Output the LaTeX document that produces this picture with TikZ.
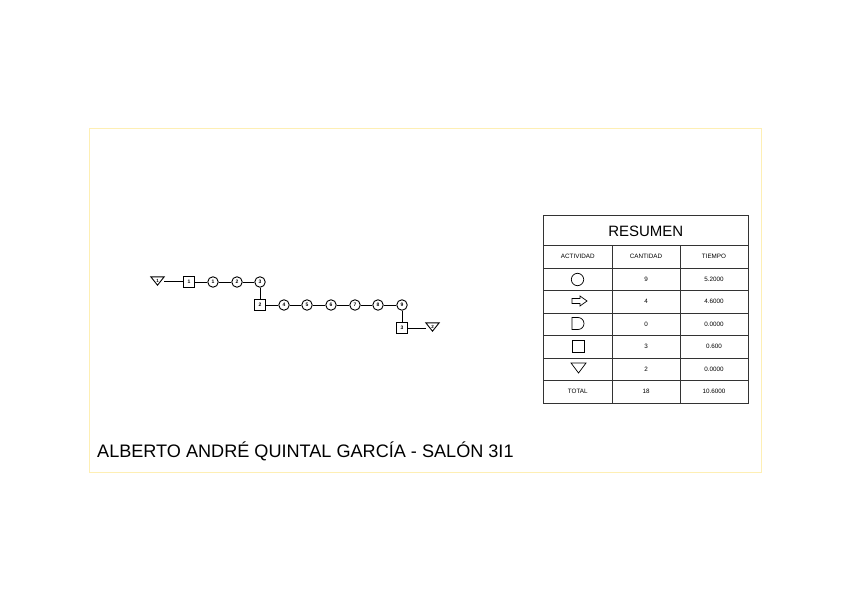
\documentclass[tikz,border=0pt]{standalone}
\usepackage{fontspec}
\setmainfont{Liberation Sans}
\usetikzlibrary{shapes.geometric}
\begin{document}
\begin{tikzpicture}[x=1pt,y=-1pt,
  op/.style={draw,circle,minimum size=10.5pt,inner sep=0pt,font=\fontsize{5}{5}\selectfont\bfseries,line width=0.9pt},
  insp/.style={draw,rectangle,minimum size=10.5pt,inner sep=0pt,font=\fontsize{5}{5}\selectfont\bfseries,line width=0.9pt},
  almbox/.style={rectangle,minimum width=13pt,minimum height=8pt,inner sep=0pt,font=\fontsize{4.5}{4.5}\selectfont\bfseries},
  almtri/.style={line width=0.9pt},
  conn/.style={line width=0.9pt},
  tab/.style={line width=0.9pt,draw=black!80},
  small/.style={font=\fontsize{6.3}{6.3}\selectfont},
  sym/.style={line width=0.7pt}]
\useasboundingbox (0,0) rectangle (848,599);
\draw[line width=1pt,draw=yellow!20!white!90!orange] (89,129) rectangle (761,472);
% flow
\node[almbox] (t1) at (157.5,281) {\raisebox{1pt}{1}};
\draw[almtri] (t1.north west) -- (t1.north east) -- (t1.south) -- cycle;
\node[insp] (s1) at (189,282) {1};
\node[op] (c1) at (213,282) {1};
\node[op] (c2) at (237,282) {2};
\node[op] (c3) at (260,282) {3};
\node[insp] (s2) at (260,305) {2};
\node[op] (c4) at (284,305) {4};
\node[op] (c5) at (307,305) {5};
\node[op] (c6) at (331,305) {6};
\node[op] (c7) at (355,305) {7};
\node[op] (c8) at (378,305) {8};
\node[op] (c9) at (402,305) {9};
\node[insp] (s3) at (402,328) {3};
\node[almbox] (t2) at (432.5,327) {\raisebox{1pt}{2}};
\draw[almtri] (t2.north west) -- (t2.north east) -- (t2.south) -- cycle;
\draw[conn] (t1.east) -- (s1.west |- t1.east);
\draw[conn] (s1) -- (c1);
\draw[conn] (c1) -- (c2);
\draw[conn] (c2) -- (c3);
\draw[conn] (c3) -- (s2);
\draw[conn] (s2) -- (c4);
\draw[conn] (c4) -- (c5);
\draw[conn] (c5) -- (c6);
\draw[conn] (c6) -- (c7);
\draw[conn] (c7) -- (c8);
\draw[conn] (c8) -- (c9);
\draw[conn] (c9) -- (s3);
\draw[conn] (s3.east) -- (t2.west |- s3.east);
% table
\draw[tab] (543.5,215) rectangle (748,403);
\foreach \y in {245,268,290,313,335,358,380} \draw[tab] (543.5,\y) -- (748,\y);
\draw[tab] (612,245) -- (612,403);
\draw[tab] (680,245) -- (680,403);
\node (res) at (645.75,231) {\fontsize{15}{15}\selectfont RESUMEN};
\node[small] (h1) at (577.75,256.5) {ACTIVIDAD};
\node[small] (h2) at (646,256.5) {CANTIDAD};
\node[small] (h3) at (714,256.5) {TIEMPO};
% symbols
\draw[sym] (577.5,279.5) circle (6.2);
\draw[sym] (572,298.5) -- (580,298.5) -- (580,296) -- (587,301) -- (580,306) -- (580,303.5) -- (572,303.5) -- cycle;
\draw[sym] (572,317.5) -- (578,317.5) arc (-90:90:6) -- (572,329.5) -- cycle;
\draw[sym] (572,340.5) rectangle (584.5,352.5);
\draw[sym] (571,363) -- (586,363) -- (578.5,373) -- cycle;
% values
\node[small] (q1) at (646,279) {9};
\node[small] (q2) at (646,301.5) {4};
\node[small] (q3) at (646,324) {0};
\node[small] (q4) at (646,346.5) {3};
\node[small] (q5) at (646,369) {2};
\node[small] (q6) at (646,391.5) {18};
\node[small] (v1) at (714,279) {5.2000};
\node[small] (v2) at (714,301.5) {4.6000};
\node[small] (v3) at (714,324) {0.0000};
\node[small] (v4) at (714,346.5) {0.600};
\node[small] (v5) at (714,369) {0.0000};
\node[small] (v6) at (714,391.5) {10.6000};
\node[small] (tot) at (577.75,391.5) {TOTAL};
% title
\node[anchor=base west,inner sep=0pt] (name) at (97,457) {\fontsize{18.1}{18.1}\selectfont ALBERTO ANDRÉ QUINTAL GARCÍA - SALÓN 3I1};
\end{tikzpicture}
\end{document}
